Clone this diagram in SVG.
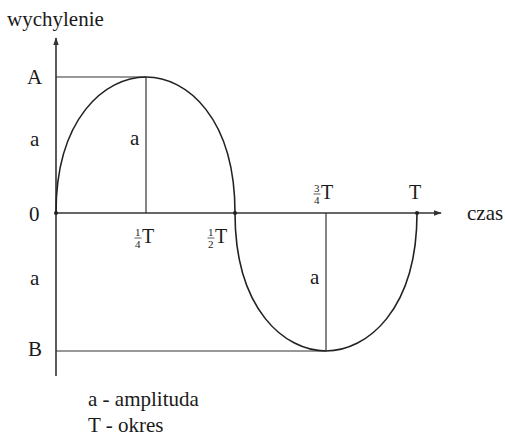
<svg xmlns="http://www.w3.org/2000/svg" width="505" height="438" viewBox="0 0 505 438">
<style>
text{font-family:"Liberation Serif","Times New Roman",serif;fill:#1a1a1a;font-size:21px}
.f{font-size:11px}
.t{font-size:20px}
.ax{stroke:#333;stroke-width:1.6;fill:none}
.ln{stroke:#333;stroke-width:1.2;fill:none}
.cv{stroke:#222;stroke-width:1.6;fill:none}
.bar{stroke:#333;stroke-width:0.8}
</style>
<defs>
<marker id="ar" viewBox="0 0 10 10" refX="9" refY="5" markerWidth="8" markerHeight="8" orient="auto" markerUnits="userSpaceOnUse">
<path d="M0,1.5 L10,5 L0,8.5 Z" fill="#333"/>
</marker>
</defs>
<g id="connectors">
<line class="ax" x1="56" y1="376" x2="56" y2="38" marker-end="url(#ar)"/>
<line class="ax" x1="56" y1="213" x2="441" y2="213" marker-end="url(#ar)"/>
<line class="ln" x1="56" y1="77" x2="146" y2="77"/>
<line class="ln" x1="146" y1="77" x2="146" y2="213"/>
<line class="ln" x1="56" y1="351" x2="326" y2="351"/>
<line class="ln" x1="326" y1="213" x2="326" y2="351"/>
</g>
<g id="curve">
<path class="cv" d="M56,213 C56,118 105,77 146,77 C187,77 235,118 235,213 C235,310 285,351 326,351 C367,351 417,310 417,213"/>
<circle cx="56" cy="213" r="2" fill="#222"/>
<circle cx="235" cy="213" r="2" fill="#222"/>
<circle cx="417" cy="213" r="2" fill="#222"/>
</g>
<g id="labels">
<text x="7" y="26">wychylenie</text>
<text x="27" y="84">A</text>
<text x="30" y="146">a</text>
<text x="29" y="221">0</text>
<text x="30" y="285">a</text>
<text x="28" y="356">B</text>
<text x="130" y="145">a</text>
<text x="310" y="284">a</text>
<text x="467" y="220">czas</text>
<text class="t" x="409" y="199">T</text>
<text x="88" y="406">a - amplituda</text>
<text x="88" y="432">T - okres</text>
</g>
<g id="fractions">
<g id="q1">
<text class="f" x="135" y="236">1</text>
<line class="bar" x1="134.5" y1="238" x2="141.5" y2="238"/>
<text class="f" x="135" y="248">4</text>
<text class="t" x="142" y="243">T</text>
</g>
<g id="q2">
<text class="f" x="208" y="236">1</text>
<line class="bar" x1="207.5" y1="238" x2="214.5" y2="238"/>
<text class="f" x="208" y="248">2</text>
<text class="t" x="215" y="243">T</text>
</g>
<g id="q3">
<text class="f" x="314" y="192">3</text>
<line class="bar" x1="313.5" y1="194" x2="320.5" y2="194"/>
<text class="f" x="314" y="204">4</text>
<text class="t" x="321" y="199">T</text>
</g>
</g>
</svg>
